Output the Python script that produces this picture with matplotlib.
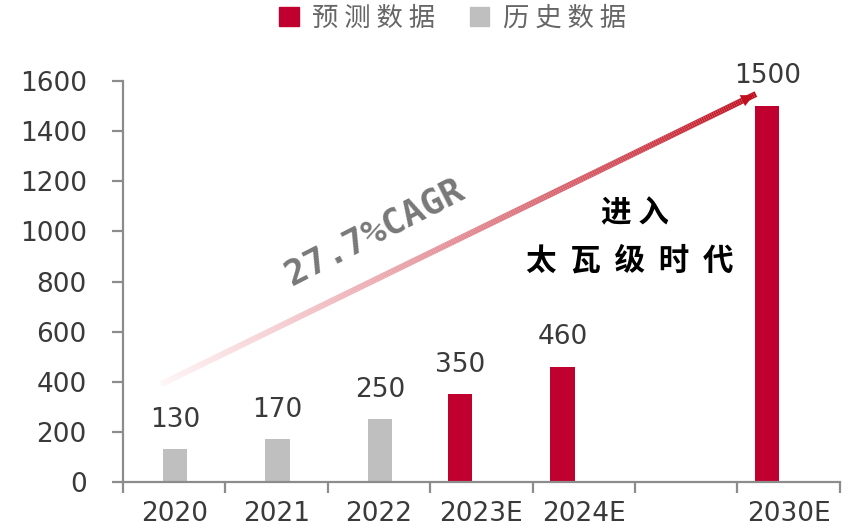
import numpy as np
import matplotlib
matplotlib.use("Agg")
import matplotlib.pyplot as plt
from matplotlib.collections import LineCollection
from matplotlib.patches import Patch
import matplotlib.colors as mcolors

plt.rcParams["font.family"] = ["DejaVu Sans", "Noto Sans CJK SC"]

# 数据
categories = ["2020", "2021", "2022", "2023E", "2024E", "", "2030E"]
history = [130, 170, 250, None, None, None, None]
forecast = [None, None, None, 350, 460, None, 1500]
cagr_label = "27.7%CAGR"
note_lines = ["进 入", "太  瓦  级  时  代"]

RED = "#C0002F"
GRAY = "#BFBFBF"
AXIS = "#8C8C8C"
TEXT = "#3A3A3A"

fig = plt.figure(figsize=(8.57, 5.28), dpi=100)
ax = fig.add_axes([0.1435, 0.0871, 0.8365, 0.7595])

x = np.arange(len(categories))
width = 0.24

for xi, v in zip(x, history):
    if v is None:
        continue
    ax.bar(xi + 0.01, v, width, color=GRAY, zorder=2)
    ax.annotate(f"{v}", (xi + 0.01, v), xytext=(0, 12), textcoords="offset points",
                ha="center", va="bottom", fontsize=19, color=TEXT)

for xi, v in zip(x, forecast):
    if v is None:
        continue
    ax.bar(xi - 0.21, v, width, color=RED, zorder=2)
    ax.annotate(f"{v}", (xi - 0.21, v), xytext=(0, 12), textcoords="offset points",
                ha="center", va="bottom", fontsize=19, color=TEXT)

ax.set_xlim(-0.5, 6.5)
ax.set_ylim(0, 1600)
ax.set_yticks(np.arange(0, 1601, 200))
ax.set_xticks(x)
ax.set_xticklabels(categories)
ax.set_xticks(np.arange(-0.5, 6.6, 1), minor=True)

for s in ["top", "right"]:
    ax.spines[s].set_visible(False)
for s in ["left", "bottom"]:
    ax.spines[s].set_color(AXIS)
    ax.spines[s].set_linewidth(1.6)

ax.tick_params(axis="y", direction="out", length=8, width=1.6, color=AXIS,
               labelsize=19, labelcolor=TEXT, pad=18)
ax.tick_params(axis="x", which="major", length=0, labelsize=19,
               labelcolor=TEXT, pad=14)
ax.tick_params(axis="x", which="minor", direction="out", length=8, width=1.6,
               color=AXIS)

# 渐变箭头 (CAGR)
start = (-0.13, 390)
end = (5.68, 1548)
t = np.linspace(0, 1, 300)
px = start[0] + (end[0] - start[0]) * t
py = start[1] + (end[1] - start[1]) * t
pts = np.column_stack([px, py]).reshape(-1, 1, 2)
segs = np.concatenate([pts[:-1], pts[1:]], axis=1)
light = np.array([1.0, 0.88, 0.90])
dark = np.array(mcolors.to_rgb("#C0101F"))
cols = []
for a in t[:-1] ** 0.7:
    rgb = light * (1 - a) + dark * a
    cols.append((*rgb, 0.25 + 0.75 * a))
lc = LineCollection(segs, colors=cols, linewidths=4.4, capstyle="butt", zorder=3)
ax.add_collection(lc)
ax.annotate("", xy=end, xytext=(end[0] - 0.12, end[1] - 24),
            arrowprops=dict(arrowstyle="-|>", color="#C0101F", lw=0,
                            mutation_scale=22),
            zorder=4)

ax.text(1.96, 995, cagr_label, rotation=27, rotation_mode="anchor",
        ha="center", va="center", fontsize=26, color="#787878",
        family="DejaVu Sans Mono", fontweight="bold")

ax.text(4.5, 1073, note_lines[0], ha="center", va="center", fontsize=22,
        family=["Noto Sans CJK SC"], fontweight="bold", color="black")
ax.text(4.45, 882, note_lines[1], ha="center", va="center", fontsize=22,
        family=["Noto Sans CJK SC"], fontweight="bold", color="black")

handles = [Patch(color=RED, label="预 测 数 据"), Patch(color=GRAY, label="历 史 数 据")]
leg = fig.legend(handles=handles, loc="center", bbox_to_anchor=(0.528, 0.966),
                 ncol=2, frameon=False, handlelength=0.75, handleheight=0.75,
                 handletextpad=0.5, columnspacing=1.3,
                 prop={"family": "Noto Sans CJK SC", "size": 19})
for txt in leg.get_texts():
    txt.set_color("#666666")

fig.savefig("out.png", dpi=100)
plt.close(fig)
